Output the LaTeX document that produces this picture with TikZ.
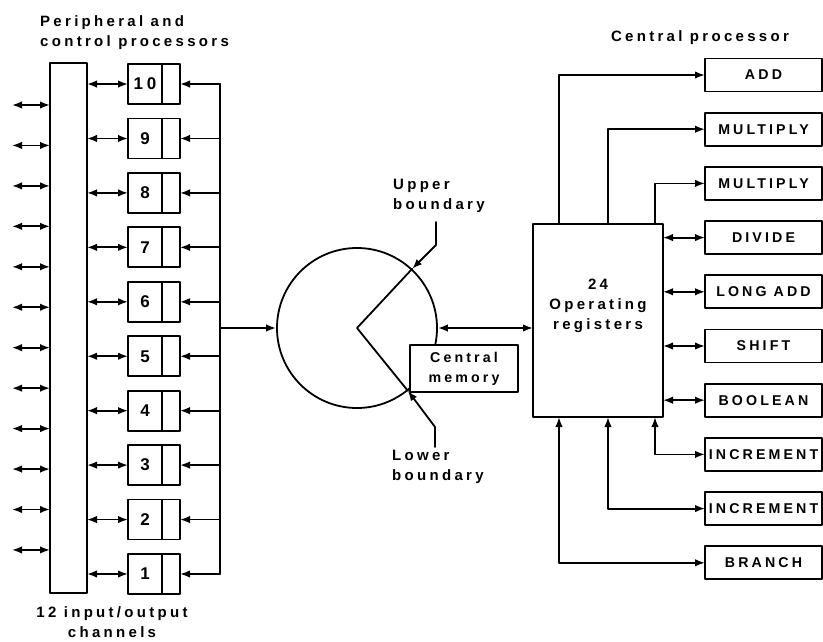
\documentclass[tikz,border=0pt]{standalone}
\usepackage{fontspec}
\setmainfont{Liberation Sans}[LetterSpace=22]
\usetikzlibrary{arrows.meta,positioning}
\newcommand\figfont{\fontsize{15}{20}\selectfont\bfseries}
\newcommand\boxfont{\fontsize{14.2}{20}\selectfont\bfseries}
\newcommand\numfont{\fontsize{17}{20}\selectfont\bfseries}
\tikzset{
every picture/.style={line cap=round,line join=round},
>={Latex[length=10pt,width=7.5pt]},
fig line/.style={draw=black, line width=1.8pt},
unit box/.style={
  draw=black,
  line width=1.8pt,
  fill=white,
  inner sep=0pt,
  outer sep=0pt,
  align=center,
  font=\boxfont
},
func box/.style={unit box, minimum width=117pt, minimum height=33pt},
fig label/.style={font=\figfont, inner sep=0pt, text=black}
}

\begin{document}
\begin{tikzpicture}[x=1pt,y=-1pt]
\useasboundingbox (0,0) rectangle (823,642);
% peripheral side
\node[unit box, minimum width=37pt, minimum height=530pt] (bus) at (68.5,328) {};
\foreach \i in {1,...,12} {
\pgfmathsetmacro\iy{105+(\i-1)*40.45}
\coordinate (io\i) at (12,\iy);
\draw[<->, fig line] (io\i) -- (io\i -| bus.west);
}
\coordinate (col) at (220,328);
\foreach \n in {1,...,10} {
\pgfmathsetmacro\py{574-(\n-1)*54.44}
\node[unit box, minimum width=34pt, minimum height=40pt, font=\numfont] (pn\n) at (145,\py) {\n};
\node[unit box, minimum width=18pt, minimum height=40pt, right=0pt of pn\n] (pr\n) {};
\draw[<->, fig line] (bus.east |- pn\n.west) -- (pn\n.west);
\draw[->, fig line] (pr\n.east -| col) -- (pr\n.east);
}
\draw[fig line] (pr10.east -| col) -- (pr1.east -| col);
% central memory
\node[draw, circle, line width=1.8pt, minimum size=160pt, inner sep=0pt] (mem) at (357,328) {};
\draw[->, fig line] (col) -- (mem.west);
\coordinate (ub) at (436,222);
\coordinate (ubk) at (436,245);
\coordinate (lb) at (435,447);
\coordinate (lbk) at (435,427);
\draw[fig line] (mem.47) -- (mem.center) -- (mem.-51);
\draw[->, fig line] (ub) -- (ubk) -- (mem.47);
\draw[->, fig line] (lb) -- (lbk) -- (mem.-51);
\node[unit box, minimum width=108pt, minimum height=47pt] (cmem) at (464,368.5) {Central\\memory};
% central processor
\node[unit box, minimum width=130pt, minimum height=193pt] (regs) at (598,320.5) {};
\node[fig label, align=center] (regtxt) at (598,306) {24\\Operating\\registers};
\draw[<->, fig line] (mem.east) -- (mem.east -| regs.west);
\foreach \k/\nm/\txt in {1/fadd/ADD,2/fmula/MULTIPLY,3/fmulb/MULTIPLY,4/fdiv/DIVIDE,5/flong/LONG ADD,6/fshift/SHIFT,7/fbool/BOOLEAN,8/finca/INCREMENT,9/fincb/INCREMENT,10/fbr/BRANCH} {
\pgfmathsetmacro\fy{75+(\k-1)*54.2}
\node[func box] (\nm) at (763.5,\fy) {\txt};
}
\draw[->, fig line] ([xshift=26pt]regs.north west) |- (fadd.west);
\draw[->, fig line] ([xshift=75pt]regs.north west) |- (fmula.west);
\draw[->, fig line] ([xshift=122pt]regs.north west) |- (fmulb.west);
\foreach \nm in {fdiv,flong,fshift,fbool}
\draw[<->, fig line] (regs.east |- \nm.west) -- (\nm.west);
\draw[<->, fig line] ([xshift=122pt]regs.south west) |- (finca.west);
\draw[<->, fig line] ([xshift=75pt]regs.south west) |- (fincb.west);
\draw[<->, fig line] ([xshift=26pt]regs.south west) |- (fbr.west);
% labels
\node[fig label, align=left, anchor=west] (pclabel) at (40,33) {Peripheral and\\control processors};
\node[fig label] (cplabel) at (700,38) {Central processor};
\node[fig label, align=left, anchor=west] (ublabel) at (393,196) {Upper\\boundary};
\node[fig label, align=left, anchor=west] (lblabel) at (392,467) {Lower\\boundary};
\node[fig label, align=center] (iolabel) at (112,622) {12 input/output\\channels};
\end{tikzpicture}
\end{document}
